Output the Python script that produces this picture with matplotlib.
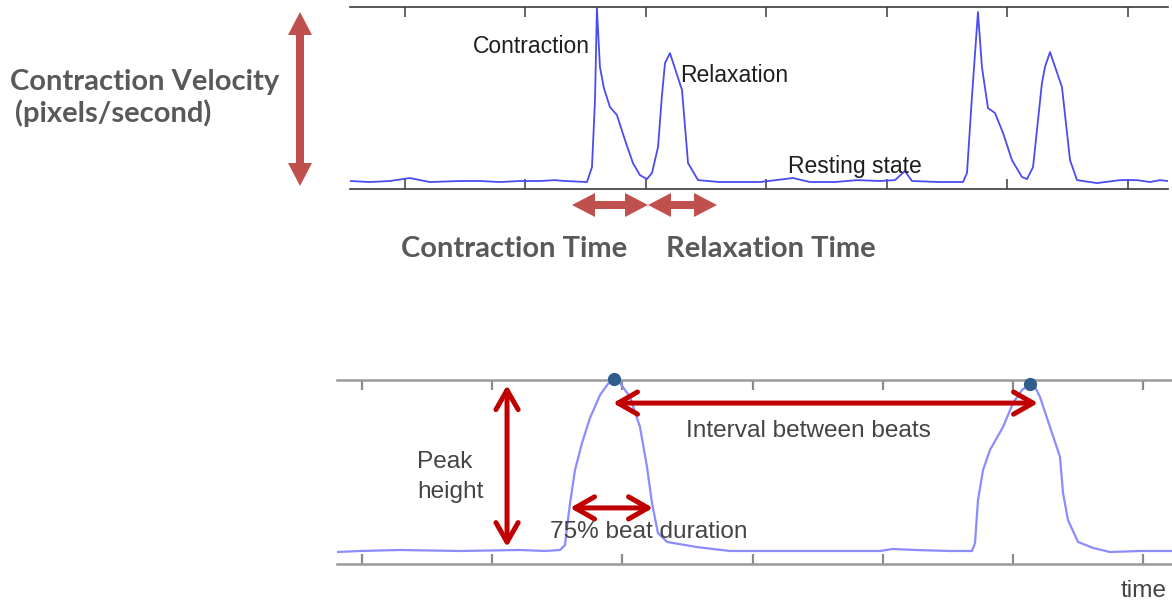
import matplotlib
matplotlib.use("Agg")
import matplotlib.pyplot as plt
from matplotlib.patches import ArrowStyle, FancyArrowPatch
import numpy as np

W, H = 1172, 602

# contraction velocity trace (time in s, velocity in px/s)
vel_time = [-0.456, -0.29, -0.124, 0.041, 0.207, 0.456, 0.622, 0.788, 0.954, 1.12,
            1.245, 1.328, 1.51, 1.552, 1.577, 1.593, 1.618, 1.651, 1.701, 1.759,
            1.826, 1.892, 1.95, 2.008, 2.05, 2.1, 2.133, 2.158, 2.199, 2.299,
            2.349, 2.432, 2.614, 2.946, 3.22, 3.361, 3.568, 3.751, 3.942, 4.066,
            4.149, 4.207, 4.44, 4.631, 4.664, 4.705, 4.755, 4.788, 4.838, 4.896,
            4.963, 5.037, 5.12, 5.162, 5.212, 5.286, 5.311, 5.353, 5.452, 5.519,
            5.577, 5.743, 5.934, 6.075, 6.183, 6.266, 6.332]
vel_values = [0.6, 0.0, 0.6, 2.3, 0.0, 0.6, 0.6, 0.0, 0.6, 0.6,
              1.1, 0.6, 0.0, 8.6, 47.1, 100.0, 66.1, 54.0, 43.1, 38.5,
              24.1, 10.9, 4.0, 1.7, 5.2, 20.1, 50.0, 68.4, 74.1, 52.9,
              10.9, 1.1, 0.0, 0.0, 2.3, 0.0, 0.0, 1.1, 0.6, 1.1,
              6.3, 0.6, 0.0, 0.0, 5.2, 48.9, 97.7, 66.1, 42.5, 39.7,
              28.2, 12.6, 2.9, 1.7, 8.6, 56.9, 66.1, 74.7, 54.6, 12.6,
              1.1, -0.6, 1.1, 1.1, 0.0, 1.1, 0.6]

# beat trace (time in s, signal in % of peak)
beat_time = [-0.192, -0.015, 0.292, 0.753, 1.214, 1.406, 1.521, 1.559, 1.578, 1.598,
             1.636, 1.69, 1.751, 1.828, 1.889, 1.935, 1.982, 2.058, 2.135, 2.189,
             2.227, 2.273, 2.343, 2.573, 2.826, 3.21, 3.671, 3.978, 4.078, 4.247,
             4.516, 4.685, 4.708, 4.731, 4.77, 4.823, 4.923, 5.0, 5.069, 5.131,
             5.169, 5.207, 5.284, 5.361, 5.384, 5.422, 5.499, 5.614, 5.745, 5.975,
             6.221]
beat_values = [-0.6, 0.0, 0.6, 0.0, 0.6, 0.0, 0.6, 3.5, 16.0, 28.1,
               47.4, 63.2, 77.8, 91.2, 97.7, 100.6, 98.2, 90.1, 72.5, 49.1,
               28.1, 10.5, 5.3, 2.3, 0.0, 0.0, 0.0, 0.0, 1.2, 0.6,
               0.0, 0.0, 4.7, 29.8, 47.4, 59.1, 72.5, 86.5, 94.2, 97.7,
               95.9, 90.1, 72.5, 55.0, 33.9, 18.1, 5.3, 1.8, -0.6, 0.0,
               0.0]

TOP_TEXT = "#1e1e1e"
BOT_TEXT = "#444444"
BOLD_TEXT = "#595959"
SOFT_RED = "#c0504d"
DARK_RED = "#c00000"


def fx(x, y):
    # figure pixel (from top-left) -> figure fraction
    return x / W, 1 - y / H


def label(fig, x, y, s, **kw):
    fig.text(*fx(x, y), s, va="baseline", **kw)


def block_arrow(fig, p0, p1, tail=8, head_w=24, head_l=23):
    # two filled half-arrows pointing outward from the middle
    mx, my = (p0[0] + p1[0]) / 2, (p0[1] + p1[1]) / 2
    style = ArrowStyle.Simple(head_length=head_l * 0.72, head_width=head_w * 0.72,
                              tail_width=tail * 0.72)
    for end, other in ((p0, p1), (p1, p0)):
        dx, dy = other[0] - mx, other[1] - my
        n = np.hypot(dx, dy)
        start = (mx + 2 * dx / n, my + 2 * dy / n)
        arr = FancyArrowPatch(fx(*start), fx(*end), arrowstyle=style, mutation_scale=1,
                              transform=fig.transFigure, color=SOFT_RED, lw=0,
                              shrinkA=0, shrinkB=0)
        fig.add_artist(arr)


def red_arrow(ax, p0, p1):
    ax.annotate("", xy=p1, xytext=p0,
                arrowprops=dict(arrowstyle="<->,head_length=14,head_width=8",
                                mutation_scale=1, color=DARK_RED, lw=3.6,
                                shrinkA=0, shrinkB=0), annotation_clip=False)


def main():
    fig = plt.figure(figsize=(W / 100, H / 100), dpi=100)
    fig.patch.set_facecolor("white")

    # top panel: contraction velocity
    ax1 = fig.add_axes([350 / W, 1 - 189 / H, (1168 - 350) / W, (189 - 7) / H])
    ax1.plot(vel_time, vel_values, color="#4b4bf0", lw=1.3)
    ax1.set_xlim(-0.456, 6.332)
    ax1.set_ylim(-4.0, 100.6)
    ax1.set_xticks(range(7))
    ax1.set_yticks([])
    for side in ("left", "right"):
        ax1.spines[side].set_visible(False)
    for side in ("top", "bottom"):
        ax1.spines[side].set_color("#3a3a3a")
        ax1.spines[side].set_linewidth(1.2)
    ax1.tick_params(axis="x", direction="in", top=True, bottom=True, length=7,
                    width=1.1, color="#3a3a3a", labelbottom=False)
    ax1.patch.set_alpha(0)

    # bottom panel: beat signal
    ax2 = fig.add_axes([337 / W, 1 - 564 / H, (1172 - 337) / W, (564 - 380) / H])
    ax2.plot(beat_time, beat_values, color="#8c8cff", lw=1.6)
    vals = np.array(beat_values)
    half = len(vals) // 2
    i1 = int(np.argmax(vals[:half]))
    i2 = half + int(np.argmax(vals[half:]))
    ax2.plot([beat_time[i1], beat_time[i2]], [beat_values[i1], beat_values[i2]],
             "o", color="#2f5d8c", ms=8.5, clip_on=False, zorder=5)
    ax2.set_xlim(-0.192, 6.221)
    ax2.set_ylim(-7.6, 100)
    ax2.set_xticks(range(7))
    ax2.set_yticks([])
    for side in ("left", "right"):
        ax2.spines[side].set_visible(False)
    for side in ("top", "bottom"):
        ax2.spines[side].set_color("#9a9a9a")
        ax2.spines[side].set_linewidth(1.8)
    ax2.tick_params(axis="x", direction="in", top=True, bottom=True, length=7,
                    width=1.6, color="#8a8a8a", labelbottom=False)
    ax2.patch.set_alpha(0)

    red_arrow(ax2, (1.114, 2.3), (1.114, 97.0))
    red_arrow(ax2, (1.598, 25.2), (2.235, 25.2))
    red_arrow(ax2, (1.928, 86.5), (5.192, 86.5))

    # block arrows
    block_arrow(fig, (300, 186), (300, 12))
    block_arrow(fig, (572, 205), (648, 205))
    block_arrow(fig, (648, 205), (717, 205))

    sans = "Liberation Sans"
    label(fig, 590, 53, "Contraction", ha="right", fontsize=16.5, color=TOP_TEXT, family=sans)
    label(fig, 680, 82, "Relaxation", ha="left", fontsize=16.5, color=TOP_TEXT, family=sans)
    label(fig, 788, 173, "Resting state", ha="left", fontsize=16.5, color=TOP_TEXT, family=sans)

    bold = dict(fontsize=21, color=BOLD_TEXT, family="Lato", fontweight="bold", ha="left")
    label(fig, 10, 90, "Contraction Velocity", **bold)
    label(fig, 15, 122, "(pixels/second)", **bold)
    label(fig, 401, 257, "Contraction Time", **bold)
    label(fig, 666, 257, "Relaxation Time", **bold)

    bot = dict(fontsize=17.6, color=BOT_TEXT, family=sans, ha="left")
    label(fig, 417, 468, "Peak", **bot)
    label(fig, 417, 498, "height", **bot)
    label(fig, 686, 437, "Interval between beats", **bot)
    label(fig, 550, 538, "75% beat duration", **bot)
    label(fig, 1121, 597, "time", **bot)

    fig.savefig("out.png", dpi=100)


if __name__ == "__main__":
    main()
